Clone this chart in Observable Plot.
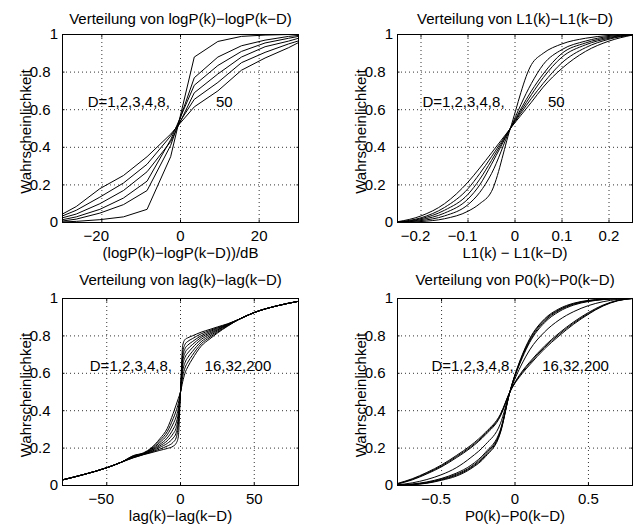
<!DOCTYPE html>
<html><head><meta charset="utf-8">
<script src="https://cdn.jsdelivr.net/npm/d3@7"></script>
<script src="https://cdn.jsdelivr.net/npm/@observablehq/plot@0.6"></script>
<style>
body{margin:0;background:#fff;}
#chart{position:relative;width:633px;height:525px;overflow:hidden;background:#fff;}
#chart > div{position:absolute;}
</style></head><body><div id="chart"></div>
<script>
// ---------- shared ----------
const probTicks = [0, 0.2, 0.4, 0.6, 0.8, 1];
const yLabel = "Wahrscheinlichkeit";

// ---------- panel 1: logP ----------
const logpTitle = "Verteilung von logP(k)−logP(k−D)";
const logpXLabel = "(logP(k)−logP(k−D))/dB";
const logpTicks = [-20, 0, 20];
const logpDomain = [-30, 30];
const logpD = [1, 2, 3, 4, 8, 50];
const logpX = [-30, -26.5, -20.5, -14.5, -8.5, -2.5, 3.5, 9.5, 15.5, 21.5, 27.5, 30];
const logpD1  = [0.003, 0.006, 0.015, 0.03, 0.07, 0.35, 0.88, 0.963, 0.99, 0.997, 1.0, 1.0];
const logpD2  = [0.008, 0.018, 0.05, 0.095, 0.17, 0.41, 0.77, 0.88, 0.94, 0.97, 0.99, 0.995];
const logpD3  = [0.015, 0.03, 0.07, 0.13, 0.22, 0.44, 0.73, 0.835, 0.91, 0.955, 0.98, 0.99];
const logpD4  = [0.025, 0.045, 0.1, 0.17, 0.27, 0.43, 0.69, 0.79, 0.88, 0.935, 0.965, 0.98];
const logpD8  = [0.035, 0.065, 0.135, 0.21, 0.31, 0.46, 0.655, 0.745, 0.85, 0.905, 0.95, 0.966];
const logpD50 = [0.045, 0.085, 0.18, 0.25, 0.35, 0.47, 0.615, 0.70, 0.81, 0.875, 0.93, 0.957];
const logpNotes = [{x: -23.6, y: 0.64, text: "D=1,2,3,4,8,"}, {x: 9.0, y: 0.64, text: "50"}];

// ---------- panel 2: L1 ----------
const l1Title = "Verteilung von L1(k)−L1(k−D)";
const l1XLabel = "L1(k) − L1(k−D)";
const l1Ticks = [-0.2, -0.1, 0, 0.1, 0.2];
const l1Domain = [-0.25, 0.25];
const l1D = [1, 2, 3, 4, 8, 50];
const l1X = [-0.25, -0.2, -0.15, -0.1, -0.075, -0.05, -0.01, 0.035, 0.06, 0.1, 0.15, 0.2, 0.25];
const l1D1  = [0.0, 0.005, 0.02, 0.06, 0.1, 0.165, 0.5, 0.84, 0.9, 0.95, 0.98, 0.995, 1.0];
const l1D2  = [0.001, 0.01, 0.035, 0.095, 0.16, 0.26, 0.5, 0.74, 0.84, 0.92, 0.965, 0.99, 1.0];
const l1D3  = [0.001, 0.015, 0.05, 0.125, 0.2, 0.31, 0.5, 0.7, 0.79, 0.9, 0.955, 0.985, 0.999];
const l1D4  = [0.002, 0.02, 0.065, 0.15, 0.23, 0.33, 0.5, 0.68, 0.77, 0.88, 0.945, 0.98, 0.998];
const l1D8  = [0.003, 0.025, 0.08, 0.18, 0.26, 0.35, 0.5, 0.66, 0.74, 0.85, 0.93, 0.975, 0.998];
const l1D50 = [0.004, 0.035, 0.1, 0.215, 0.29, 0.37, 0.5, 0.64, 0.72, 0.82, 0.91, 0.965, 0.997];
const l1Notes = [{x: -0.197, y: 0.64, text: "D=1,2,3,4,8,"}, {x: 0.07, y: 0.64, text: "50"}];

// ---------- panel 3: lag ----------
const lagTitle = "Verteilung von lag(k)−lag(k−D)";
const lagXLabel = "lag(k)−lag(k−D)";
const lagTicks = [-50, 0, 50];
const lagDomain = [-80, 80];
const lagD = [1, 2, 3, 4, 8, 16, 32, 200];
const lagX = [-80, -65, -50, -40, -32, -25, -20, -14, -9, -5, -3, -1.5, 0, 1.5, 3, 5, 8, 14, 20, 25, 32, 40, 50, 65, 80];
const lagD1   = [0.03, 0.06, 0.095, 0.125, 0.148, 0.165, 0.175, 0.188, 0.198, 0.21, 0.225, 0.26, 0.5, 0.75, 0.78, 0.79, 0.8, 0.82, 0.835, 0.848, 0.865, 0.89, 0.925, 0.96, 0.985];
const lagD2   = [0.03, 0.06, 0.095, 0.125, 0.149, 0.166, 0.178, 0.195, 0.211, 0.231, 0.254, 0.32, 0.5, 0.71, 0.754, 0.771, 0.785, 0.811, 0.829, 0.844, 0.863, 0.89, 0.925, 0.96, 0.985];
const lagD3   = [0.03, 0.06, 0.095, 0.125, 0.151, 0.168, 0.181, 0.204, 0.225, 0.254, 0.28, 0.34, 0.5, 0.686, 0.731, 0.751, 0.769, 0.801, 0.823, 0.84, 0.862, 0.89, 0.925, 0.96, 0.985];
const lagD4   = [0.03, 0.06, 0.095, 0.125, 0.153, 0.169, 0.185, 0.212, 0.239, 0.277, 0.306, 0.363, 0.5, 0.663, 0.708, 0.731, 0.753, 0.792, 0.816, 0.835, 0.86, 0.89, 0.925, 0.96, 0.985];
const lagD8   = [0.03, 0.06, 0.095, 0.125, 0.154, 0.17, 0.188, 0.22, 0.254, 0.301, 0.334, 0.386, 0.5, 0.639, 0.684, 0.709, 0.736, 0.781, 0.809, 0.831, 0.858, 0.89, 0.925, 0.96, 0.985];
const lagD16  = [0.03, 0.06, 0.095, 0.125, 0.156, 0.172, 0.192, 0.23, 0.271, 0.329, 0.366, 0.412, 0.5, 0.611, 0.656, 0.685, 0.716, 0.769, 0.801, 0.826, 0.856, 0.89, 0.925, 0.96, 0.985];
const lagD32  = [0.03, 0.06, 0.095, 0.125, 0.158, 0.173, 0.196, 0.24, 0.288, 0.357, 0.398, 0.439, 0.5, 0.583, 0.628, 0.66, 0.696, 0.757, 0.793, 0.82, 0.854, 0.89, 0.925, 0.96, 0.985];
const lagD200 = [0.03, 0.06, 0.095, 0.125, 0.16, 0.175, 0.2, 0.25, 0.305, 0.385, 0.43, 0.465, 0.5, 0.555, 0.6, 0.635, 0.676, 0.745, 0.785, 0.815, 0.852, 0.89, 0.925, 0.96, 0.985];
const lagNotes = [{x: -61.5, y: 0.64, text: "D=1,2,3,4,8,"}, {x: 16.3, y: 0.64, text: "16,32,200"}];

// ---------- panel 4: P0 ----------
const p0Title = "Verteilung von P0(k)−P0(k−D)";
const p0XLabel = "P0(k)−P0(k−D)";
const p0Ticks = [-0.5, 0, 0.5];
const p0Domain = [-0.8, 0.8];
const p0D = [16, 32, 200, 8, 4, 3, 2, 1];
const p0X = [-0.8, -0.7, -0.6, -0.5, -0.4, -0.3, -0.2, -0.1, -0.035, 0.05, 0.1, 0.2, 0.3, 0.4, 0.5, 0.6, 0.7, 0.8];
const p0A1 = [0.001, 0.004, 0.012, 0.028, 0.05, 0.09, 0.155, 0.28, 0.5, 0.7, 0.785, 0.89, 0.945, 0.975, 0.99, 0.997, 1.0, 1.0];
const p0A2 = [0.002, 0.005, 0.014, 0.031, 0.055, 0.095, 0.162, 0.285, 0.5, 0.695, 0.78, 0.885, 0.94, 0.972, 0.988, 0.996, 0.999, 1.0];
const p0A3 = [0.002, 0.006, 0.016, 0.034, 0.06, 0.1, 0.17, 0.29, 0.5, 0.69, 0.772, 0.878, 0.936, 0.969, 0.986, 0.995, 0.999, 1.0];
const p0A4 = [0.003, 0.008, 0.019, 0.038, 0.066, 0.108, 0.178, 0.297, 0.5, 0.683, 0.765, 0.87, 0.93, 0.965, 0.984, 0.994, 0.999, 1.0];
const p0M  = [0.004, 0.014, 0.032, 0.058, 0.095, 0.15, 0.22, 0.33, 0.5, 0.655, 0.725, 0.82, 0.885, 0.93, 0.962, 0.983, 0.995, 1.0];
const p0W1 = [0.008, 0.03, 0.062, 0.1, 0.148, 0.202, 0.272, 0.37, 0.5, 0.612, 0.66, 0.745, 0.815, 0.875, 0.925, 0.965, 0.99, 1.0];
const p0W2 = [0.009, 0.033, 0.066, 0.105, 0.154, 0.208, 0.278, 0.375, 0.5, 0.606, 0.653, 0.738, 0.808, 0.869, 0.92, 0.962, 0.989, 1.0];
const p0W3 = [0.011, 0.036, 0.07, 0.11, 0.16, 0.215, 0.285, 0.38, 0.5, 0.6, 0.645, 0.73, 0.8, 0.863, 0.916, 0.96, 0.988, 1.0];
const p0Notes = [{x: -0.569, y: 0.64, text: "D=1,2,3,4,8,"}, {x: 0.185, y: 0.64, text: "16,32,200"}];

// ---------- drawing ----------
const fmt = d3.format("");
const gridStyle = {stroke: "#333", strokeOpacity: 1, strokeDasharray: "1,3", strokeWidth: 1};

function panel({title, xlabel, domain, xTicks, xs, ys, Ds, curve, notes, titleDy, frameW, frameH, marginRight}) {
  const rows = Ds.flatMap((D, i) => xs.map((x, j) => ({D, x, y: ys[i][j]})));
  const neg = xTicks.filter(t => t < 0), nonneg = xTicks.filter(t => t >= 0);
  const yInt = probTicks.filter(t => Number.isInteger(t));
  const yDec = probTicks.filter(t => !Number.isInteger(t));
  const gx = xTicks.filter(t => t > domain[0] && t < domain[1]);
  const gy = probTicks.filter(t => t > 0 && t < 1);
  return Plot.plot({
    width: 62 + frameW + marginRight, height: 34 + frameH + 40,
    marginLeft: 62, marginRight, marginTop: 34, marginBottom: 40,
    x: {domain, label: null},
    y: {domain: [0, 1], label: null},
    style: {fontFamily: "'Liberation Sans', Arial, Helvetica, sans-serif", fontSize: "15px", color: "#000", background: "#fff", overflow: "visible"},
    marks: [
      Plot.gridX(gx, gridStyle),
      Plot.gridY(gy, gridStyle),
      Plot.line(rows, {x: "x", y: "y", z: "D", stroke: "#000", strokeWidth: 1, curve}),
      Plot.frame({stroke: "#000", strokeWidth: 1}),
      Plot.axisX(xTicks, {anchor: "bottom", tickSize: -2.5, fill: "none", label: null}),
      Plot.axisX(xTicks, {anchor: "top", tickSize: -2.5, fill: "none", label: null}),
      Plot.axisY(probTicks, {anchor: "left", tickSize: -2.5, fill: "none", label: null}),
      Plot.axisY(probTicks, {anchor: "right", tickSize: -2.5, fill: "none", label: null}),
      Plot.axisX(nonneg, {anchor: "bottom", tickSize: 0, tickPadding: 8, tickFormat: fmt, label: null}),
      Plot.axisX(neg, {anchor: "bottom", tickSize: 0, tickPadding: 8, tickFormat: fmt, dx: -5.5, label: null}),
      Plot.axisY(yInt, {anchor: "left", tickSize: 0, tickPadding: 4.5, tickFormat: fmt, label: null}),
      Plot.axisY(yDec, {anchor: "left", tickSize: 0, tickPadding: 12, tickFormat: fmt, label: null}),
      Plot.text([title], {text: d => d, frameAnchor: "top", textAnchor: "middle", lineAnchor: "bottom", dy: titleDy}),
      Plot.text([xlabel], {text: d => d, frameAnchor: "bottom", textAnchor: "middle", lineAnchor: "bottom", dy: 35}),
      Plot.text([yLabel], {text: d => d, frameAnchor: "left", textAnchor: "middle", rotate: -90, lineAnchor: "bottom", dx: -31.5, dy: 3}),
      Plot.text(notes, {x: "x", y: "y", text: "text", textAnchor: "start", lineAnchor: "middle"})
    ]
  });
}

const specs = [
  {left: 0, top: 0, title: logpTitle, xlabel: logpXLabel, domain: logpDomain, xTicks: logpTicks, xs: logpX,
   ys: [logpD1, logpD2, logpD3, logpD4, logpD8, logpD50], Ds: logpD, curve: "linear", notes: logpNotes,
   titleDy: -11, frameW: 236, frameH: 188, marginRight: 2},
  {left: 335, top: 0, title: l1Title, xlabel: l1XLabel, domain: l1Domain, xTicks: l1Ticks, xs: l1X,
   ys: [l1D1, l1D2, l1D3, l1D4, l1D8, l1D50], Ds: l1D, curve: "monotone-x", notes: l1Notes,
   titleDy: -11, frameW: 235, frameH: 188, marginRight: 1},
  {left: 0, top: 264, title: lagTitle, xlabel: lagXLabel, domain: lagDomain, xTicks: lagTicks, xs: lagX,
   ys: [lagD1, lagD2, lagD3, lagD4, lagD8, lagD16, lagD32, lagD200], Ds: lagD, curve: "monotone-x", notes: lagNotes,
   titleDy: -13.5, frameW: 236, frameH: 187, marginRight: 2},
  {left: 335, top: 264, title: p0Title, xlabel: p0XLabel, domain: p0Domain, xTicks: p0Ticks, xs: p0X,
   ys: [p0A1, p0A2, p0A3, p0A4, p0M, p0W1, p0W2, p0W3], Ds: p0D, curve: "monotone-x", notes: p0Notes,
   titleDy: -13.5, frameW: 235, frameH: 187, marginRight: 1}
];

const chart = document.getElementById("chart");
for (const s of specs) {
  const div = document.createElement("div");
  div.style.left = s.left + "px";
  div.style.top = s.top + "px";
  div.appendChild(panel(s));
  chart.appendChild(div);
}
</script></body></html>
